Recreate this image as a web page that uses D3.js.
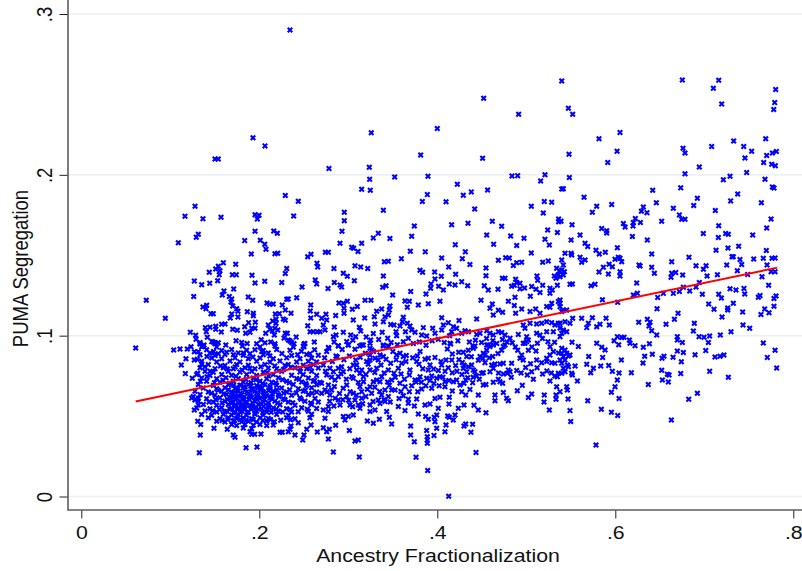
<!DOCTYPE html>
<html><head><meta charset="utf-8">
<script src="https://cdn.jsdelivr.net/npm/d3@7"></script>
<style>html,body{margin:0;padding:0;background:#fff}svg{display:block}
text{font-family:"Liberation Sans",Arial,sans-serif;fill:#111}</style></head>
<body><svg id="c" width="802" height="571"></svg>
<script>
const xTicks=[0,.2,.4,.6,.8];
const yTicks=[0,.1,.2,.3];
const xTitle="Ancestry Fractionalization";
const yTitle="PUMA Segregation";
const fitLine=[[.0611,.0591],[.782,.1423]];
const westSide=[[.2345,.29],[.1929,.2231],[.2064,.218],[.1502,.2099],[.1539,.2099],[.2292,.1871],[.1278,.1805],[.1165,.1742],[.1367,.1727],[.157,.1736],[.1952,.1752],[.1997,.1749],[.1978,.1726],[.2438,.1836],[.2386,.1744],[.1952,.1649],[.2162,.1651],[.2203,.1637],[.1315,.1631],[.1292,.1612],[.109,.1578],[.1836,.1591],[.2011,.1593],[.2061,.1568],[.2075,.1537],[.191,.1508],[.2176,.151],[.2207,.1512],[.2544,.1491],[.2581,.1506],[.2648,.145],[.2656,.1427],[.1596,.1454],[.154,.1431],[.151,.1415],[.1558,.1404],[.155,.1379],[.1438,.1394],[.1735,.1444],[.1697,.1378],[.1742,.1378],[.1918,.1376],[.2308,.1417],[.2292,.1386],[.127,.134],[.1353,.1317],[.1443,.1326],[.1532,.1342],[.1952,.1328],[.2061,.1338],[.2252,.133],[.248,.1303],[.2629,.1346],[.2645,.1322],[.1712,.129],[.1603,.1278],[.1584,.1253],[.1263,.1243],[.1663,.1243],[.169,.1228],[.1682,.1209],[.1876,.1241],[.1926,.122],[.2308,.1226],[.2326,.1228],[.242,.1236],[.073,.122],[.2087,.1203],[.2117,.1195],[.2157,.1197],[.2258,.1191],[.2292,.116],[.2578,.1191],[.2573,.1154],[.2645,.1133],[.1367,.1178],[.1409,.1189],[.1401,.1168],[.1701,.1185],[.1746,.1168],[.176,.1152],[.1865,.1149],[.1933,.1139],[.1933,.1124],[.1457,.1137],[.1483,.1137],[.169,.1135],[.1674,.111],[.176,.1116],[.218,.1135],[.2225,.1137],[.2356,.1139],[.227,.1104],[.2292,.1096],[.2188,.1102],[.215,.1091],[.2578,.111],[.1955,.1083],[.188,.1081],[.1836,.1056],[.0944,.1108],[.1577,.1071],[.1615,.1073],[.1393,.105],[.1446,.1052],[.1404,.1025],[.151,.1058],[.151,.104],[.1573,.1023],[.1701,.104],[.1753,.1034],[.1952,.1046],[.1915,.1046],[.1847,.1015],[.1896,.1021],[.2101,.1067],[.212,.104],[.2176,.1046],[.2207,.1035],[.2146,.1029],[.2188,.1077],[.2072,.1015],[.2169,.1004],[.2292,.1015],[.2315,.1015],[.2544,.1062],[.257,.1025],[.2607,.1025],[.2652,.1025],[.1225,.1021],[.1285,.1002],[.1289,.0978],[.1416,.099],[.1465,.0963],[.1502,.0956],[.1539,.0956],[.2326,.0973],[.2345,.0967],[.239,.095],[.2502,.0948],[.2502,.0931],[.2618,.0961],[.0611,.0923],[.1334,.0948],[.1379,.0942],[.1353,.0931],[.1233,.0931],[.1191,.0917],[.1109,.0917],[.1038,.0911],[.127,.09],[.1315,.09],[.1176,.0857],[.127,.0849],[.1303,.0853],[.1124,.0818],[.1353,.0824],[.1169,.0764],[.1247,.0735],[.1308,.0766],[.1258,.0621],[.1277,.06],[.1315,.0611],[.127,.0538],[.1315,.0569],[.1308,.0468],[.1342,.0447],[.1491,.0424],[.1337,.0382],[.1326,.0272],[.164,.0418],[.1708,.0382],[.1727,.0368],[.1851,.0303],[.1974,.0308],[.1896,.0403],[.1915,.0387],[.1948,.0387],[.2019,.0389],[.2157,.0445],[.2169,.0465],[.2233,.0399],[.2258,.0399],[.2356,.0438],[.2345,.0418],[.2326,.0403],[.2401,.0382],[.2438,.0459],[.2581,.0445],[.2533,.0418],[.2502,.0382],[.2488,.0351],[.2652,.0401]];
const denseCore=[[.1334,.0958],[.1502,.0949],[.1802,.0957],[.197,.095],[.2064,.0956],[.2176,.0949],[.2363,.0957],[.2513,.0951],[.1371,.0936],[.1521,.0929],[.181,.0936],[.2008,.093],[.2176,.0935],[.2382,.093],[.2494,.0934],[.1408,.0913],[.1577,.0908],[.1689,.0914],[.1858,.0909],[.1951,.0913],[.2045,.0908],[.2195,.0914],[.2345,.0909],[.1446,.0892],[.154,.0888],[.1764,.0893],[.1895,.0887],[.2101,.0892],[.2569,.0888],[.1334,.0882],[.1502,.0877],[.1614,.0883],[.182,.0878],[.2045,.0882],[.2363,.0877],[.2532,.0883],[.2663,.0878],[.1465,.0861],[.1577,.0856],[.1727,.0862],[.1877,.0857],[.2008,.0861],[.2157,.0856],[.2307,.0862],[.2457,.0857],[.2588,.0861],[.1352,.0841],[.1521,.0836],[.1671,.0842],[.1783,.0837],[.197,.0841],[.212,.0836],[.2232,.0842],[.2419,.0837],[.2551,.0841],[.2644,.0836],[.1427,.082],[.1614,.0815],[.1745,.0821],[.1877,.0816],[.2064,.082],[.2288,.0815],[.2326,.0821],[.2494,.0816],[.2607,.082],[.1334,.08],[.1502,.0795],[.1596,.08],[.1708,.0795],[.1839,.08],[.1951,.0794],[.2101,.0799],[.2195,.0795],[.2401,.08],[.2532,.0794],[.2663,.0799],[.139,.0779],[.1483,.0773],[.1652,.0778],[.1783,.0774],[.1914,.0779],[.2045,.0773],[.2251,.0778],[.2457,.0774],[.2588,.0779],[.1296,.0758],[.1446,.0753],[.1577,.0759],[.1689,.0754],[.1858,.0758],[.197,.0753],[.2157,.0759],[.2363,.0754],[.2494,.0758],[.2644,.0753],[.1352,.0737],[.1521,.0732],[.1626,.0738],[.1764,.0733],[.1933,.0737],[.2083,.0732],[.2214,.0738],[.2419,.0733],[.2551,.0737],[.1408,.0716],[.1558,.0711],[.1708,.0717],[.182,.0712],[.2008,.0716],[.2139,.0711],[.2307,.0717],[.2476,.0712],[.2607,.0716],[.2682,.0711],[.1315,.0696],[.1483,.069],[.1652,.0695],[.1783,.0691],[.1877,.0696],[.197,.069],[.2064,.0695],[.2195,.0691],[.2382,.0696],[.2532,.069],[.2644,.0695],[.1371,.0675],[.1521,.067],[.1614,.0676],[.1727,.0671],[.182,.0675],[.1914,.067],[.2008,.0676],[.212,.0671],[.2251,.0675],[.2438,.067],[.2588,.0676],[.1277,.0655],[.1427,.065],[.1577,.0654],[.1689,.0649],[.1764,.0655],[.1858,.065],[.1951,.0654],[.2045,.0649],[.2157,.0655],[.2307,.065],[.2494,.0654],[.2644,.0649],[.1334,.0634],[.1502,.0629],[.1633,.0634],[.1727,.0628],[.1802,.0633],[.1895,.0629],[.1989,.0634],[.2083,.0628],[.2214,.0633],[.2363,.0629],[.2551,.0634],[.124,.0613],[.1408,.0608],[.1558,.0614],[.1671,.0609],[.1745,.0613],[.182,.0608],[.1914,.0614],[.2008,.0609],[.212,.0613],[.227,.0608],[.2457,.0614],[.2626,.0609],[.1315,.0593],[.1483,.0588],[.1614,.0592],[.1708,.0587],[.1783,.0593],[.1858,.0588],[.1951,.0592],[.2045,.0587],[.2176,.0593],[.2326,.0588],[.2513,.0592],[.2663,.0587],[.1371,.0572],[.1521,.0567],[.1652,.0572],[.1727,.0566],[.1802,.0571],[.1895,.0567],[.1989,.0572],[.2101,.0566],[.2232,.0571],[.2401,.0567],[.2588,.0572],[.1296,.0551],[.1446,.0546],[.1577,.0552],[.1689,.0547],[.1764,.0551],[.1839,.0546],[.1933,.0552],[.2026,.0547],[.2157,.0551],[.2307,.0546],[.2476,.0552],[.2644,.0547],[.139,.0531],[.1521,.0526],[.1633,.053],[.1727,.0525],[.1802,.0531],[.1877,.0526],[.197,.053],[.2083,.0525],[.2214,.0531],[.2363,.0526],[.2551,.053],[.1352,.051],[.1465,.0505],[.1596,.0511],[.1689,.0506],[.1764,.051],[.1858,.0505],[.1951,.0511],[.2045,.0506],[.2195,.051],[.2326,.0505],[.2588,.0511],[.1427,.0489],[.1558,.0484],[.1652,.049],[.1745,.0485],[.182,.0489],[.1914,.0484],[.2008,.049],[.2101,.0485],[.2307,.0489],[.2401,.0484],[.2569,.049],[.1521,.0468],[.1614,.0463],[.1708,.0469],[.1802,.0464],[.1877,.0468],[.197,.0463],[.2083,.0469],[.1689,.0447],[.1745,.0442],[.1839,.0448],[.1933,.0443],[.2008,.0447],[.2083,.0442],[.182,.0426],[.1914,.0422]];
const coreFill=[[.1412,.0871],[.1486,.0902],[.1633,.0897],[.1709,.0881],[.1822,.0892],[.1928,.0867],[.2027,.0901],[.2119,.0873],[.2254,.0889],[.2431,.0882],[.1389,.0806],[.1447,.0779],[.1563,.0811],[.1641,.0793],[.1729,.0805],[.1806,.0786],[.1893,.0798],[.2017,.0806],[.2088,.0769],[.2173,.0812],[.2272,.0789],[.2354,.0803],[.2462,.0798],[.2571,.0806],[.1338,.0716],[.1413,.0744],[.1496,.0708],[.1592,.0723],[.1667,.0703],[.1738,.0748],[.1792,.0691],[.1851,.0728],[.1908,.0707],[.1962,.0726],[.2037,.0702],[.2104,.0749],[.2186,.0706],[.2261,.0726],[.2337,.0708],[.2448,.0729],[.2524,.0703],[.2622,.0722],[.1462,.0642],[.1536,.0661],[.1598,.0637],[.1652,.0664],[.1706,.0643],[.1753,.0659],[.1788,.0642],[.1841,.0664],[.1877,.0641],[.1923,.0661],[.1971,.0643],[.2012,.0662],[.2063,.0641],[.2105,.0659],[.2148,.0639],[.2199,.0662],[.2274,.0642],[.2341,.0663],[.2415,.0643],[.2517,.0661],[.2593,.0642],[.1435,.0587],[.1512,.0601],[.1583,.0582],[.1642,.0603],[.1688,.0581],[.1726,.0604],[.1769,.0578],[.1815,.0602],[.1846,.0579],[.1881,.0605],[.1926,.0581],[.1967,.0604],[.2018,.0579],[.2059,.0603],[.2103,.0581],[.2144,.0604],[.2206,.0582],[.2289,.0601],[.2376,.0583],[.2468,.0604],[.2578,.0581],[.1476,.0533],[.1553,.0541],[.1611,.0525],[.1669,.0542],[.1712,.0521],[.1751,.0543],[.1786,.0523],[.1829,.0541],[.1868,.0522],[.1907,.0544],[.1951,.0521],[.1992,.0542],[.2039,.0523],[.2088,.0541],[.2134,.0524],[.2189,.0542],[.2263,.0526],[.2348,.0541],[.2437,.0527],[.2539,.0542],[.1582,.0472],[.1645,.0478],[.1722,.0473],[.1787,.0479],[.1852,.0474],[.1932,.0478],[.2041,.0473],[.2126,.0479],[.2241,.0474],[.2352,.0477],[.1712,.0691],[.1743,.0677],[.1831,.0683],[.1903,.0687],[.1984,.0681],[.2031,.0674],[.2121,.0684],[.1721,.0558],[.1798,.0553],[.1839,.0564],[.1911,.0557],[.1962,.0553],[.2047,.0559],[.2112,.0553],[.1683,.0618],[.1762,.0625],[.1827,.0619],[.1901,.0622],[.1973,.0617],[.2052,.0623],[.2138,.0618],[.2221,.0622],[.1482,.0961],[.1624,.0942],[.1739,.0968],[.1863,.0951],[.2021,.0974],[.2128,.0961],[.2278,.0986],[.2414,.0991],[.2473,.0903],[.2621,.0912]];
const midBand=[[.2955,.1767],[.2955,.1715],[.2929,.1649],[.2907,.1574],[.2742,.1519],[.2776,.1519],[.3038,.155],[.306,.1543],[.3109,.1523],[.315,.1574],[.3281,.1608],[.3337,.1637],[.3394,.178],[.3468,.1604],[.3832,.1834],[.4098,.1832],[.442,.1788],[.5056,.1805],[.5202,.1834],[.5285,.183],[.5191,.1763],[.5363,.1726],[.5363,.1709],[.3742,.1682],[.4161,.169],[.4345,.1699],[.4618,.1711],[.4723,.168],[.524,.1657],[.5349,.1641],[.3712,.1618],[.4555,.1626],[.4824,.162],[.4974,.1606],[.521,.16],[.5259,.1564],[.4202,.1566],[.4633,.1568],[.4892,.156],[.3697,.1525],[.3865,.1521],[.4315,.1521],[.5056,.1514],[.3596,.1479],[.4049,.1483],[.4281,.1479],[.4367,.1442],[.4686,.1469],[.4768,.1485],[.4809,.1483],[.3405,.146],[.345,.1463],[.4128,.1427],[.4854,.1436],[.4892,.1454],[.4948,.1456],[.5184,.1456],[.5247,.1465],[.3075,.1434],[.3139,.1427],[.3218,.1417],[.2839,.1417],[.4547,.1421],[.3806,.1407],[.3835,.1394],[.397,.1396],[.5341,.1419],[.5371,.1402],[.2944,.1388],[.2989,.1369],[.3394,.1371],[.4045,.1369],[.4206,.1382],[.4547,.1373],[.512,.1371],[.5127,.1344],[.5315,.1371],[.5333,.1357],[.536,.1378],[.3974,.1353],[.4731,.1357],[.4761,.1357],[.488,.1351],[.4892,.133],[.2843,.133],[.3068,.1342],[.2907,.1315],[.2925,.1303],[.3386,.1301],[.3424,.1311],[.3929,.1322],[.3925,.1295],[.4015,.1307],[.4068,.1284],[.4135,.1322],[.4199,.1315],[.4274,.1336],[.4341,.1311],[.4528,.1311],[.4573,.1284],[.4682,.1288],[.4835,.1307],[.4865,.1313],[.4929,.1326],[.4929,.1291],[.4981,.1297],[.506,.1305],[.5109,.1288],[.5154,.1268],[.5184,.1313],[.5266,.1295],[.5266,.1264],[.5292,.1284],[.5349,.1313],[.2772,.1293],[.3701,.1274],[.3873,.1259],[.3498,.1253],[.5045,.1245],[.4873,.1239],[.4798,.1214],[.4491,.122],[.403,.1214],[.3637,.1216],[.3686,.1214],[.3663,.1176],[.3188,.122],[.3255,.122],[.2895,.1203],[.2944,.1201],[.2989,.1214],[.2952,.117],[.2952,.1139],[.3101,.1181],[.3045,.1164],[.3468,.1185],[.3461,.116],[.3375,.1166],[.3319,.1152],[.3787,.1191],[.3899,.1199],[.4618,.1197],[.4592,.117],[.4686,.1158],[.4734,.1146],[.4629,.1129],[.4865,.1187],[.488,.1139],[.4948,.1166],[.5042,.115],[.5105,.1166],[.5154,.1139],[.5229,.1181],[.5285,.1201],[.5266,.1177],[.536,.1212],[.2749,.1133],[.2757,.1098],[.2701,.1108],[.2858,.1125],[.3056,.1098],[.3184,.111],[.3292,.1118],[.33,.1073],[.3394,.1087],[.345,.1129],[.3412,.1118],[.3618,.1114],[.3607,.1087],[.4049,.1112],[.4244,.1094],[.4124,.1081],[.4442,.1104],[.2719,.1067],[.2738,.1035],[.2682,.1025],[.2843,.1054],[.2832,.0994],[.2862,.1004],[.2944,.1021],[.3027,.1004],[.3083,.0994],[.2982,.0963],[.3,.0942],[.3124,.1052],[.3139,.1029],[.3251,.0973],[.3476,.1069],[.3513,.1067],[.3581,.106],[.3536,.1025],[.3543,.1],[.3663,.1077],[.3693,.106],[.3712,.1035],[.3843,.105],[.3948,.1046],[.3974,.1015],[.4049,.1035],[.4068,.1067],[.418,.1056],[.4217,.1046],[.4161,.1025],[.3442,.0984],[.3674,.0984],[.375,.1021],[.3824,.1004],[.388,.0998],[.4011,.0977],[.4311,.1031],[.4349,.1025],[.4274,.1015],[.4442,.1008],[.448,.1015],[.4555,.1031],[.4592,.1015],[.4629,.1004],[.4686,.1025],[.4723,.1019],[.4761,.1004],[.4817,.0984],[.491,.1008],[.4966,.1067],[.4985,.1046],[.5042,.1077],[.5116,.1073],[.5172,.1077],[.5229,.1087],[.5285,.1081],[.5322,.1067],[.536,.1077],[.5116,.1015],[.5154,.1004],[.5004,.0994],[.5023,.0973],[.4966,.0953],[.5229,.1025],[.5304,.1025],[.4143,.0953],[.4405,.0932],[.2776,.0926],[.2888,.0938],[.3169,.0942],[.3244,.0922],[.3394,.0936],[.345,.0936],[.4555,.0942],[.4592,.0932],[.4742,.0932],[.2783,.2039],[.3236,.2047],[.324,.1972],[.3521,.1987],[.3895,.1991],[.4839,.1993],[.4903,.1995],[.521,.2],[.5161,.1962],[.315,.191],[.3247,.1904],[.4225,.1941],[.3888,.1877],[.4292,.1873],[.4382,.1894],[.4565,.1906],[.4521,.2476],[.4914,.2377],[.3258,.2261],[.4,.2288],[.3813,.2124],[.4509,.2103]];
const lowerBand=[[.4128,.0001],[.3892,.0161],[.4435,.0273],[.3761,.0244],[.3124,.0246],[.2832,.0277],[.3075,.0345],[.3113,.0351],[.2776,.0358],[.3888,.0331],[.3888,.0351],[.3888,.0372],[.3742,.0341],[.37,.0438],[.37,.0382],[.388,.0411],[.3963,.038],[.3993,.0424],[.4086,.0403],[.4098,.0445],[.4378,.0399],[.4397,.0449],[.43,.0438],[.4319,.0451],[.3012,.0411],[.2719,.0428],[.2787,.0418],[.2757,.0403],[.2858,.0443],[.3214,.047],[.3281,.0455],[.3349,.048],[.3461,.0492],[.3487,.0451],[.3869,.0497],[.3899,.048],[.3974,.0465],[.3966,.0492],[.4116,.0501],[.418,.0476],[.4199,.0507],[.4135,.0492],[.4236,.0548],[.43,.0569],[.4461,.0538],[.4412,.0567],[.4547,.0521],[.3993,.0507],[.4011,.0548],[.3974,.061],[.403,.0617],[.3862,.0569],[.3918,.0575],[.4135,.0617],[.4131,.0575],[.4169,.0656],[.4648,.0631],[.4648,.0596],[.4742,.0646],[.4779,.0611],[.4798,.0596],[.4461,.0631],[.4899,.0658],[.4955,.0691],[.5023,.0615],[.506,.0637],[.5202,.0631],[.5199,.0588],[.5259,.0538],[.5334,.0604],[.5334,.0631],[.5341,.0683],[.5266,.0718],[.5079,.0729],[.5011,.0756],[.506,.0776],[.4517,.0693],[.4547,.0697],[.4629,.071],[.4686,.0729],[.4734,.0704],[.4704,.0714],[.4367,.0666],[.4319,.0631],[.4274,.0652],[.4255,.0693],[.43,.0704],[.4319,.0725],[.4397,.0708],[.4442,.0749],[.4086,.0683],[.4086,.0714],[.4131,.0721],[.418,.0714],[.4217,.0725],[.403,.0745],[.3993,.0735],[.3937,.0749],[.388,.0735],[.3806,.0745],[.3749,.0725],[.3787,.0725],[.3937,.0673],[.3824,.0669],[.378,.0652],[.3768,.0606],[.3674,.0604],[.3674,.058],[.357,.061],[.3562,.0559],[.3637,.0534],[.3742,.0563],[.3787,.0513],[.358,.0704],[.3487,.0662],[.3412,.0662],[.3525,.0662],[.3686,.0652],[.3637,.0683],[.3487,.0725],[.3513,.0766],[.345,.0787],[.3476,.0828],[.3562,.0797],[.36,.0828],[.3543,.088],[.3618,.087],[.3648,.0839],[.3581,.089],[.3693,.0787],[.3686,.0756],[.3768,.084],[.3776,.0874],[.3862,.0853],[.3899,.0859],[.3974,.0865],[.3806,.0901],[.3918,.0818],[.3899,.0787],[.4049,.0818],[.4098,.0849],[.4041,.0839],[.4206,.0814],[.4169,.0886],[.424,.0897],[.4292,.0897],[.433,.087],[.4349,.091],[.4405,.0921],[.4423,.0936],[.4113,.0917],[.415,.0948],[.43,.0818],[.4349,.0807],[.4292,.0797],[.433,.0776],[.4405,.0787],[.4386,.0818],[.4423,.0776],[.4517,.089],[.4555,.091],[.448,.087],[.4536,.0832],[.4573,.0942],[.4629,.0942],[.4723,.091],[.4761,.0942],[.4536,.088],[.4611,.0818],[.4648,.0824],[.4704,.0824],[.4742,.0828],[.4835,.0828],[.4629,.0797],[.4592,.0776],[.4517,.077],[.4498,.0766],[.4798,.0787],[.4787,.0766],[.4817,.0776],[.4903,.091],[.4948,.088],[.4929,.0859],[.4966,.0849],[.5023,.091],[.5109,.0905],[.4985,.0953],[.5004,.0963],[.5116,.0849],[.5172,.0832],[.5229,.0859],[.5266,.088],[.5304,.0901],[.5229,.084],[.5285,.0832],[.5322,.0828],[.536,.0766],[.5349,.0745],[.2757,.0901],[.2783,.0921],[.2862,.0874],[.2888,.0936],[.3,.0942],[.3075,.0915],[.315,.0942],[.3244,.0953],[.3262,.0911],[.3394,.0942],[.345,.0932],[.2719,.0818],[.2794,.0797],[.2888,.0797],[.2925,.0807],[.2944,.0776],[.2832,.0776],[.2888,.0745],[.2757,.0756],[.2851,.0725],[.3056,.0818],[.3094,.0818],[.3094,.0787],[.315,.0787],[.3169,.0745],[.3131,.0766],[.3056,.0735],[.3038,.0745],[.3244,.088],[.3244,.0849],[.33,.0859],[.3356,.088],[.3394,.087],[.3337,.0849],[.3206,.0839],[.3319,.0797],[.3244,.0787],[.3375,.0745],[.3319,.0725],[.3356,.0714],[.3281,.0714],[.3244,.0683],[.27,.0704],[.2776,.0693],[.2738,.0662],[.2813,.0662],[.2794,.0631],[.27,.0642],[.2851,.0611],[.2888,.06],[.2907,.0569],[.2776,.0559],[.2719,.0538],[.2776,.0528],[.2738,.0486],[.2982,.0693],[.2982,.0621],[.3056,.0642],[.3131,.0683],[.315,.0652],[.3075,.06],[.315,.0611],[.3113,.0569],[.3019,.0569],[.2944,.0497],[.3,.0497],[.3056,.0507],[.2963,.0476],[.3131,.0548],[.3244,.0528],[.33,.0538],[.3356,.0579],[.3244,.0569],[.3337,.06],[.3262,.0642],[.3375,.0631],[.3412,.059],[.345,.0621],[.3431,.0528]];
const middleFill=[[.2734,.0862],[.2821,.0839],[.2876,.0868],[.2951,.0851],[.3012,.0873],[.3083,.0849],[.3134,.0866],[.3192,.0891],[.3283,.0902],[.3367,.0818],[.3424,.0853],[.3501,.0901],[.2743,.0779],[.2811,.0741],[.2917,.0763],[.2978,.0729],[.3017,.0794],[.3112,.0709],[.3198,.0758],[.3224,.0822],[.3298,.0771],[.3403,.0768],[.3441,.0712],[.2762,.0652],[.2843,.0684],[.2901,.0641],[.2943,.0673],[.3021,.0651],[.3092,.0629],[.3171,.0713],[.3214,.0667],[.3298,.0679],[.3352,.0653],[.3461,.0691],[.2791,.0592],[.2838,.0563],[.2938,.0602],[.3004,.0598],[.3049,.0558],[.3161,.0577],[.3198,.0621],[.3278,.0591],[.3401,.0602],[.3471,.0587],[.3528,.0741],[.3592,.0761],[.3631,.0729],[.3591,.0653],[.3618,.0627],[.3712,.0688],[.3761,.0712],[.3822,.0711],[.3871,.0689],[.3918,.0721],[.3962,.0703],[.4021,.0689],[.4063,.0741],[.3538,.0851],[.3652,.0876],[.3723,.0862],[.3794,.0823],[.3837,.0794],[.3958,.0792],[.4012,.0783],[.4087,.0778],[.4123,.0801],[.4168,.0769],[.4221,.0778],[.4276,.0758],[.4341,.0739],[.4403,.0742],[.4472,.0729],[.4163,.0848],[.4243,.0851],[.4281,.0833],[.4382,.0869],[.4461,.0847],[.4513,.0858],[.4583,.0862],[.4622,.0871],[.4681,.0889],[.4688,.0768],[.4743,.0762],[.4831,.0741],[.4892,.0784],[.4941,.0768],[.4992,.0802],[.5047,.0825],[.5121,.0801],[.5183,.0762],[.5231,.0781],[.5281,.0768],[.5321,.0749],[.4361,.0961],[.4428,.0972],[.4497,.0958],[.4553,.0983],[.4624,.0968],[.4668,.0951],[.4732,.0976],[.4783,.0961],[.4842,.0956],[.4877,.0929],[.5063,.0929],[.5124,.0953],[.5181,.0982],[.5243,.0962],[.5267,.0931],[.5318,.0959],[.5362,.0892],[.2841,.0961],[.2931,.0914],[.3051,.0972],[.3128,.0935],[.3201,.0991],[.3281,.1014],[.3342,.0976],[.3381,.1021],[.3481,.0958],[.3551,.0943],[.3618,.0962],[.3642,.1024],[.3731,.0952],[.3798,.0961],[.3874,.0941],[.3942,.0968],[.4078,.0957],[.4138,.0999],[.4231,.0968]];
const eastSide=[[.5398,.2584],[.5473,.2414],[.5521,.2377],[.6753,.259],[.7162,.2588],[.7102,.2538],[.7195,.2441],[.7802,.253],[.7791,.2449],[.778,.2406],[.6053,.2263],[.5817,.2225],[.602,.2147],[.548,.2128],[.5915,.2076],[.6761,.2165],[.6783,.2136],[.7083,.2176],[.733,.2211],[.7443,.2176],[.7532,.2147],[.7457,.2105],[.769,.2225],[.7701,.212],[.7765,.2136],[.781,.2145],[.7667,.2076],[.7757,.2066],[.7798,.2057],[.6944,.2049],[.6783,.2006],[.7476,.2014],[.5484,.1983],[.7289,.1991],[.7214,.197],[.7682,.1972],[.7765,.1925],[.7783,.1918],[.5398,.1912],[.5416,.1914],[.6735,.1919],[.642,.1904],[.5649,.1861],[.7375,.1881],[.6922,.1854],[.7296,.1838],[.7641,.1827],[.5791,.1805],[.5959,.1815],[.5742,.1767],[.6461,.1827],[.6881,.1809],[.6315,.18],[.6293,.1773],[.6356,.1765],[.6652,.1792],[.672,.1751],[.6746,.1724],[.6783,.1724],[.7124,.1778],[.775,.1726],[.6225,.1728],[.6203,.1703],[.6282,.1703],[.6521,.1711],[.6091,.1697],[.611,.1676],[.6199,.1682],[.7162,.1684],[.539,.1711],[.5514,.169],[.5847,.1666],[.5903,.1653],[.5903,.1639],[.7701,.167],[.6989,.1635],[.724,.1635],[.727,.163],[.7544,.1626],[.5604,.1626],[.7158,.161],[.6192,.1616],[.5503,.1595],[.636,.1595],[.566,.1574],[.569,.1554],[.6023,.1547],[.7132,.1531],[.7266,.1545],[.7386,.1556],[.7697,.1529],[.5783,.1531],[.582,.1508],[.5888,.1518],[.6409,.1508],[.6828,.1487],[.7311,.1491],[.7326,.1491],[.7555,.1477],[.7663,.1481],[.7761,.1481],[.7795,.1483],[.7401,.1473],[.742,.1442],[.5435,.1512],[.5503,.1512],[.551,.1502],[.5604,.1487],[.5622,.1456],[.566,.1471],[.6034,.1487],[.6053,.1481],[.5997,.1475],[.6072,.146],[.6634,.146],[.6907,.1435],[.702,.1435],[.699,.1413],[.7031,.1371],[.7252,.144],[.7371,.1404],[.7705,.144],[.5866,.1425],[.593,.1444],[.5967,.1429],[.5817,.1396],[.6267,.144],[.6278,.1433],[.6409,.1425],[.6439,.1388],[.6053,.1398],[.6053,.1371],[.5922,.1384],[.6634,.1388],[.6626,.1363],[.6679,.1392],[.6757,.1377],[.7147,.1379],[.7487,.1381],[.7648,.1367],[.775,.1398],[.7795,.1398],[.5398,.1471],[.5416,.144],[.5398,.1408],[.5416,.1377],[.5379,.1367],[.5428,.1398],[.624,.1328],[.5491,.1319],[.5518,.1321],[.5727,.1311],[.5772,.1319],[.7723,.1313],[.6765,.1301],[.6907,.1303],[.6944,.133],[.6836,.1278],[.672,.1274],[.6652,.1263],[.654,.1263],[.6476,.1238],[.6978,.1257],[.7289,.1292],[.7356,.1284],[.7446,.1294],[.7454,.1259],[.7162,.1257],[.7192,.1234],[.7626,.1249],[.7607,.1239],[.7806,.1247],[.7783,.1231],[.6203,.1253],[.6248,.1263],[.5855,.1224],[.6027,.1207],[.7049,.1197],[.7109,.1164],[.7326,.1201],[.7263,.1172],[.7263,.116],[.7783,.1183],[.6469,.1168],[.6705,.1139],[.6664,.1102],[.7678,.1166],[.7727,.1143],[.7637,.1131],[.7431,.1147],[.7199,.1116],[.6888,.1077],[.657,.1071],[.6263,.1083],[.636,.1102],[.639,.1083],[.6379,.106],[.6409,.1031],[.6465,.1004],[.5896,.1108],[.5742,.1112],[.5828,.1071],[.5791,.1056],[.5933,.1067],[.5697,.1077],[.5679,.105],[.5622,.1108],[.5521,.1108],[.5491,.1077],[.5435,.1087],[.5454,.1025],[.5416,.1035],[.5379,.0994],[.7435,.1066],[.751,.1046],[.73,.1025],[.6877,.1029],[.718,.1004],[.6941,.0994],[.6997,.099],[.706,.0998],[.6697,.0994],[.6697,.0973],[.6753,.0957],[.7046,.0957],[.6023,.0994],[.6072,.0988],[.6098,.099],[.5986,.0969],[.6038,.0944],[.6158,.0973],[.6166,.0953],[.6222,.0938],[.5791,.0953],[.5847,.0928],[.5885,.0911],[.5514,.0959],[.5585,.0932],[.6383,.095],[.6315,.0928],[.7663,.0954],[.7795,.0909],[.7708,.0865],[.7813,.0799],[.6697,.0905],[.6765,.0896],[.6896,.0882],[.7016,.0907],[.712,.0868],[.7177,.0872],[.7221,.088],[.633,.0872],[.6416,.0884],[.6547,.0872],[.6525,.0859],[.6649,.0866],[.5701,.087],[.5858,.0865],[.6068,.0849],[.6742,.0838],[.6311,.083],[.5679,.0822],[.5754,.0797],[.5836,.0811],[.5926,.0814],[.5967,.0778],[.6042,.0768],[.5724,.077],[.5548,.0811],[.551,.0766],[.5518,.0756],[.618,.077],[.6521,.0785],[.6735,.0764],[.706,.0778],[.727,.0741],[.6585,.076],[.6604,.0755],[.6529,.0724],[.6596,.0712],[.6023,.0724],[.5997,.0683],[.5956,.0648],[.6042,.061],[.6371,.0697],[.5574,.0718],[.5454,.0683],[.5461,.0662],[.5379,.0652],[.5469,.0606],[.569,.0596],[.6825,.0604],[.6922,.0642],[.5491,.0534],[.5499,.0467],[.5843,.0542],[.5956,.0524],[.6027,.0503],[.663,.0476],[.5783,.032],[.5398,.0921],[.5435,.0911],[.5398,.089],[.5454,.089],[.5416,.087],[.5473,.0874],[.5379,.0849],[.5435,.0849],[.5398,.0828],[.5473,.0807],[.5416,.0797],[.5435,.0776],[.5398,.0766],[.5461,.0818],[.5491,.088],[.5379,.1222],[.5379,.1201],[.5379,.118],[.5416,.116],[.5454,.116],[.5398,.115],[.5379,.1077],[.5379,.1047],[.5398,.1015]];
const allPoints=[...westSide,...denseCore,...coreFill,...midBand,...lowerBand,...middleFill,...eastSide];

const svg=d3.select("#c");
const x=d3.scaleLinear().domain([0,.8]).range([81.3,793.3]);
const y=d3.scaleLinear().domain([0,.3]).range([496.5,14]);
const fmt=d=>d===0?"0":String(d).replace(/^0/,"");
const left=68,bottom=510,right=802;
const stretch=1.151;

svg.append("g").selectAll("line").data(yTicks).join("line")
  .attr("x1",left).attr("x2",right).attr("y1",d=>y(d)).attr("y2",d=>y(d))
  .attr("stroke",d=>d===0?"#eaf3f2":"#e9f0f4").attr("stroke-width",1.5);

const ax=svg.append("g").attr("transform",`translate(0,${bottom})`)
  .call(d3.axisBottom(x).tickValues(xTicks).tickFormat(fmt).tickSize(8.5).tickSizeOuter(0));
ax.select(".domain").remove();
ax.selectAll("line").attr("stroke","#222").attr("stroke-width",1);
ax.selectAll("text").attr("font-size",18.5).attr("dy",0).attr("y",0).attr("fill","#111")
  .attr("transform",`translate(0,29) scale(${stretch},1)`);
const ay=svg.append("g").attr("transform",`translate(${left},0)`)
  .call(d3.axisLeft(y).tickValues(yTicks).tickFormat(fmt).tickSize(8.5).tickSizeOuter(0));
ay.select(".domain").remove();
ay.selectAll("line").attr("stroke","#222").attr("stroke-width",1);
ay.selectAll("text").attr("font-size",18.5).attr("dy",0).attr("x",0).attr("y",0)
  .attr("text-anchor","middle").attr("fill","#111")
  .attr("transform",`translate(-16,0) scale(${stretch},1) rotate(-90)`);
svg.append("line").attr("x1",left).attr("x2",left).attr("y1",0).attr("y2",bottom+.7).attr("stroke","#5c5c5c").attr("stroke-width",1.6);
svg.append("line").attr("x1",left).attr("x2",right).attr("y1",bottom).attr("y2",bottom).attr("stroke","#5c5c5c").attr("stroke-width",1.4);

const sym=d3.symbol().type(d3.symbolX).size(15);
svg.append("g").selectAll("path").data(allPoints).join("path")
  .attr("d",sym).attr("transform",d=>`translate(${x(d[0])},${y(d[1])})`)
  .attr("fill","none").attr("stroke","#0000ff").attr("stroke-width",2.1);

svg.append("path").attr("d",d3.line().x(d=>x(d[0])).y(d=>y(d[1]))(fitLine))
  .attr("fill","none").attr("stroke","#ff0000").attr("stroke-width",2);

svg.append("text").attr("text-anchor","middle").attr("font-size",18.5)
  .attr("transform",`translate(438,562) scale(${stretch},1)`).text(xTitle);
svg.append("text").attr("text-anchor","middle").attr("font-size",18.5)
  .attr("transform",`translate(28,268.5) scale(${stretch},1) rotate(-90)`).text(yTitle);
</script></body></html>
